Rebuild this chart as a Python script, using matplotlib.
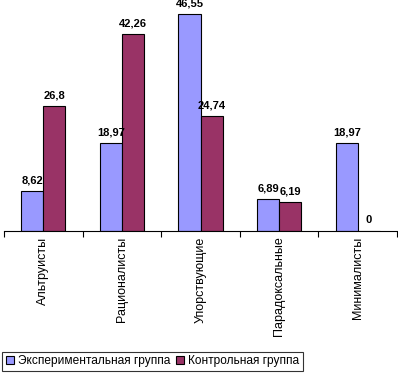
import matplotlib
matplotlib.use("Agg")
import matplotlib.pyplot as plt
import numpy as np

plt.rcParams['font.family'] = ['Liberation Sans', 'DejaVu Sans']

categories = ["Альтруисты", "Рационалисты", "Упорствующие", "Парадоксальные", "Минималисты"]
exp_vals = [8.62, 18.97, 46.55, 6.89, 18.97]
ctrl_vals = [26.8, 42.26, 24.74, 6.19, 0]
exp_labels = ["8,62", "18,97", "46,55", "6,89", "18,97"]
ctrl_labels = ["26,8", "42,26", "24,74", "6,19", "0"]
series_names = ["Экспериментальная группа", "Контрольная группа"]

W, H = 398, 373
fig = plt.figure(figsize=(W/100, H/100), dpi=100)
ax = fig.add_axes([4/W, (H-231)/H, 393/W, 231/H])

x = np.arange(len(categories))
bw = 0.28
b1 = ax.bar(x - bw/2, exp_vals, bw, color="#9999FF", edgecolor="black", linewidth=0.8, label=series_names[0])
b2 = ax.bar(x + bw/2, ctrl_vals, bw, color="#993366", edgecolor="black", linewidth=0.8, label=series_names[1])

for rect, lab in zip(b1, exp_labels):
    ax.annotate(lab, (rect.get_x() + rect.get_width()/2, rect.get_height()),
                xytext=(0, 4), textcoords="offset points", ha="center", va="bottom",
                fontsize=8, fontweight="bold")
for rect, lab in zip(b2, ctrl_labels):
    ax.annotate(lab, (rect.get_x() + rect.get_width()/2, rect.get_height()),
                xytext=(0, 4), textcoords="offset points", ha="center", va="bottom",
                fontsize=8, fontweight="bold")

ax.set_xlim(-0.5, len(categories) - 0.5)
ax.set_ylim(0, 49.6)
for s in ["top", "right", "left"]:
    ax.spines[s].set_visible(False)
ax.spines["bottom"].set_linewidth(0.8)
ax.set_yticks([])
ax.set_xticks(x)
ax.set_xticklabels(categories, rotation=90, fontsize=9, va="top", ha="center")
ax.tick_params(axis="x", which="major", length=0, pad=4)
ax.set_xticks(np.arange(len(categories) + 1) - 0.5, minor=True)
ax.tick_params(axis="x", which="minor", length=4, width=0.8, direction="out")

leg = fig.legend(handles=[b1, b2], labels=series_names, loc="lower left",
                 bbox_to_anchor=(2/W, 2/H), ncol=2, fontsize=8.6, frameon=True,
                 fancybox=False, edgecolor="black", handlelength=0.7, handleheight=0.7,
                 handletextpad=0.3, columnspacing=0.5, borderpad=0.3, borderaxespad=0)
leg.get_frame().set_linewidth(0.8)

fig.savefig("out.png", dpi=100)
